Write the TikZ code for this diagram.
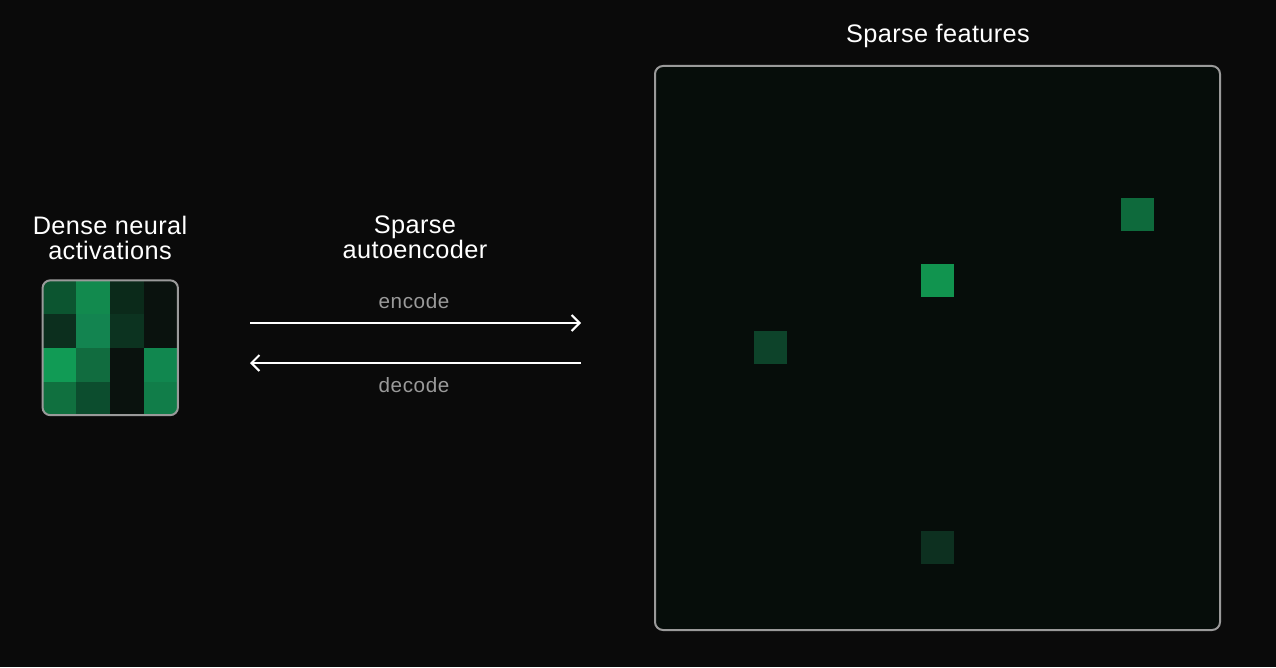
\documentclass[tikz,border=0pt]{standalone}
\usepackage{fontspec}
\setmainfont{Liberation Sans}
\newfontfamily\titlefont[LetterSpace=1.5]{Liberation Sans}
\newfontfamily\lblfont[LetterSpace=3]{Liberation Sans}
\usetikzlibrary{arrows.meta}
\definecolor{bg}{HTML}{0A0A0A}
\definecolor{panel}{HTML}{060D0A}
\definecolor{frame}{HTML}{9A9A9A}
\definecolor{lbl}{HTML}{9A9A9A}
\definecolor{cA}{HTML}{0C5530}
\definecolor{cB}{HTML}{128A4E}
\definecolor{cC}{HTML}{0B2A1A}
\definecolor{cD}{HTML}{0A120E}
\definecolor{cE}{HTML}{0C2F1E}
\definecolor{cF}{HTML}{138450}
\definecolor{cG}{HTML}{0C3320}
\definecolor{cH}{HTML}{119B55}
\definecolor{cI}{HTML}{116C3F}
\definecolor{cJ}{HTML}{11874F}
\definecolor{cK}{HTML}{10703F}
\definecolor{cL}{HTML}{0C4D2E}
\definecolor{cM}{HTML}{117D49}
\definecolor{sA}{HTML}{0D432A}
\definecolor{sB}{HTML}{11944F}
\definecolor{sC}{HTML}{0E6A3C}
\definecolor{sD}{HTML}{0D3020}
\tikzset{
  title/.style={text=white,font=\titlefont\fontsize{19}{18.75}\selectfont,align=center,inner sep=0pt},
  arrlbl/.style={text=lbl,font=\lblfont\fontsize{15.5}{17}\selectfont,inner sep=0pt},
  frm/.style={draw=frame,line width=1.5pt,rounded corners=6pt},
  flow/.style={draw=white,line width=1.5pt,-{Straight Barb[length=6pt,width=12pt,line width=1.5pt]}},
  feat/.style={draw=none,inner sep=0pt,minimum size=24.75pt}
}
\begin{document}
\begin{tikzpicture}[x=0.75pt,y=-0.75pt]
\fill[bg] (0,0) rectangle (1276,667);
\useasboundingbox (0,0) rectangle (1276,667);
% titles
\node[title] (tdense) at (110,237.5) {Dense neural\\activations};
\node[title] (tsae) at (415,237.5) {Sparse\\autoencoder};
\node[title] (tsparse) at (938,35.5) {Sparse features};
% dense grid
\begin{scope}
\clip[rounded corners=6pt] (42.5,280.5) rectangle (178,415);
\foreach \c [count=\i from 0] in {cA,cB,cC,cD}{\fill[\c] (42.5+\i*33.9,280.5) rectangle ++(34,33.7);}
\foreach \c [count=\i from 0] in {cE,cF,cG,cD}{\fill[\c] (42.5+\i*33.9,314.2) rectangle ++(34,33.7);}
\foreach \c [count=\i from 0] in {cH,cI,cD,cJ}{\fill[\c] (42.5+\i*33.9,347.9) rectangle ++(34,33.7);}
\foreach \c [count=\i from 0] in {cK,cL,cD,cM}{\fill[\c] (42.5+\i*33.9,381.6) rectangle ++(34,33.7);}
\end{scope}
\node[frm,inner sep=0pt,minimum width=101.6pt,minimum height=101.2pt] (dense) at (110.25,347.75) {};
% arrows
\coordinate (eL) at (250,323);
\coordinate (eR) at (581,323);
\coordinate (dL) at (250,363);
\coordinate (dR) at (581,363);
\draw[flow] (eL) -- (eR);
\draw[flow] (dR) -- (dL);
\node[arrlbl] (enc) at (414,301) {encode};
\node[arrlbl] (dec) at (414,385) {decode};
% sparse panel
\node[frm,fill=panel,inner sep=0pt,minimum width=423.75pt,minimum height=423pt] (sparse) at (937.5,348) {};
\node[feat,fill=sA] (f1) at (770.5,347.5) {};
\node[feat,fill=sB] (f2) at (937.5,280.5) {};
\node[feat,fill=sC] (f3) at (1137.5,214.5) {};
\node[feat,fill=sD] (f4) at (937.5,547.5) {};
\end{tikzpicture}
\end{document}
